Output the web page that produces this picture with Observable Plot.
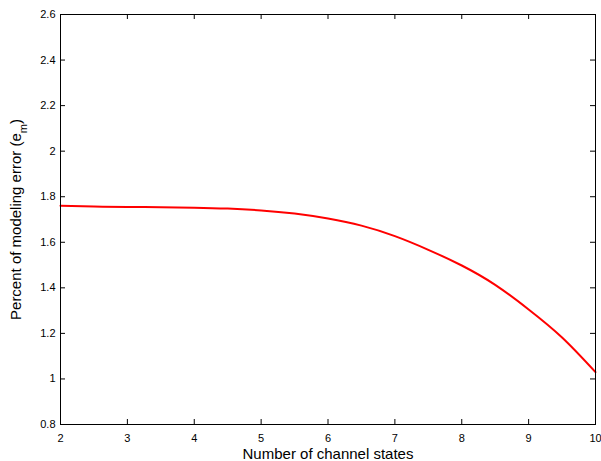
<!DOCTYPE html>
<html>
<head>
<meta charset="utf-8">
<script src="https://cdn.jsdelivr.net/npm/d3@7"></script>
<script src="https://cdn.jsdelivr.net/npm/@observablehq/plot@0.6"></script>
<style>
  html, body { margin: 0; padding: 0; background: #fff; }
  #chart svg { display: block; }
</style>
</head>
<body>
<div id="chart"></div>
<script>
const states = [2, 2.5, 3, 3.5, 4, 4.5, 5, 5.5, 6, 6.5, 7, 7.5, 8, 8.5, 9, 9.5, 10];
const errorPct = [1.760, 1.757, 1.755, 1.754, 1.752, 1.748, 1.740, 1.726, 1.704, 1.673, 1.627, 1.567, 1.498, 1.413, 1.305, 1.182, 1.030];
const xTicks = [2, 3, 4, 5, 6, 7, 8, 9, 10];
const yTicks = [0.8, 1, 1.2, 1.4, 1.6, 1.8, 2, 2.2, 2.4, 2.6];

const data = states.map((s, i) => ({x: s, y: errorPct[i]}));

const W = 601, H = 461, ML = 60, MR = 6, MT = 14, MB = 37, TICK = 5;
const frameW = W - ML - MR, frameH = H - MT - MB;

const chart = Plot.plot({
  width: W,
  height: H,
  marginLeft: ML,
  marginRight: MR,
  marginTop: MT,
  marginBottom: MB,
  style: {fontFamily: "'Liberation Sans', Arial, sans-serif", fontSize: "11px", color: "#000", background: "#fff"},
  x: {domain: [2, 10]},
  y: {domain: [0.8, 2.6]},
  marks: [
    Plot.axisX({anchor: "bottom", ticks: xTicks, tickSize: 0, tickPadding: 10, tickFormat: d => String(d),
      label: "Number of channel states", labelAnchor: "center", labelOffset: 34, labelArrow: "none", fontSize: 11}),
    Plot.axisY({anchor: "left", ticks: yTicks, tickSize: 0, tickPadding: 5, tickFormat: d => String(d),
      label: "Percent of modeling error (em)", labelAnchor: "center", labelOffset: 50, labelArrow: "none", fontSize: 11}),
    // inward ticks on all four sides
    Plot.tickX(xTicks, {x: d => d, stroke: "#000", strokeWidth: 1, insetTop: frameH - TICK}),
    Plot.tickX(xTicks, {x: d => d, stroke: "#000", strokeWidth: 1, insetBottom: frameH - TICK}),
    Plot.tickY(yTicks, {y: d => d, stroke: "#000", strokeWidth: 1, insetRight: frameW - TICK}),
    Plot.tickY(yTicks, {y: d => d, stroke: "#000", strokeWidth: 1, insetLeft: frameW - TICK}),
    Plot.line(data, {x: "x", y: "y", stroke: "#ff0000", strokeWidth: 2, curve: "natural"}),
    Plot.frame({stroke: "#000", strokeWidth: 1})
  ]
});

document.getElementById("chart").appendChild(chart);

// Style axis labels and add subscript
d3.select(chart).selectAll("text").each(function() {
  const t = d3.select(this);
  const txt = t.text();
  if (txt === "Number of channel states") {
    t.style("font-size", "15px");
  } else if (txt === "Percent of modeling error (em)") {
    t.style("font-size", "15px");
    const tspans = t.selectAll("tspan");
    const target = tspans.empty() ? t : d3.select(tspans.nodes()[0]);
    target.text(null);
    target.append("tspan").text("Percent of modeling error (e");
    target.append("tspan").attr("baseline-shift", "sub").style("font-size", "11px").text("m");
    target.append("tspan").text(")");
  }
});
</script>
</body>
</html>
